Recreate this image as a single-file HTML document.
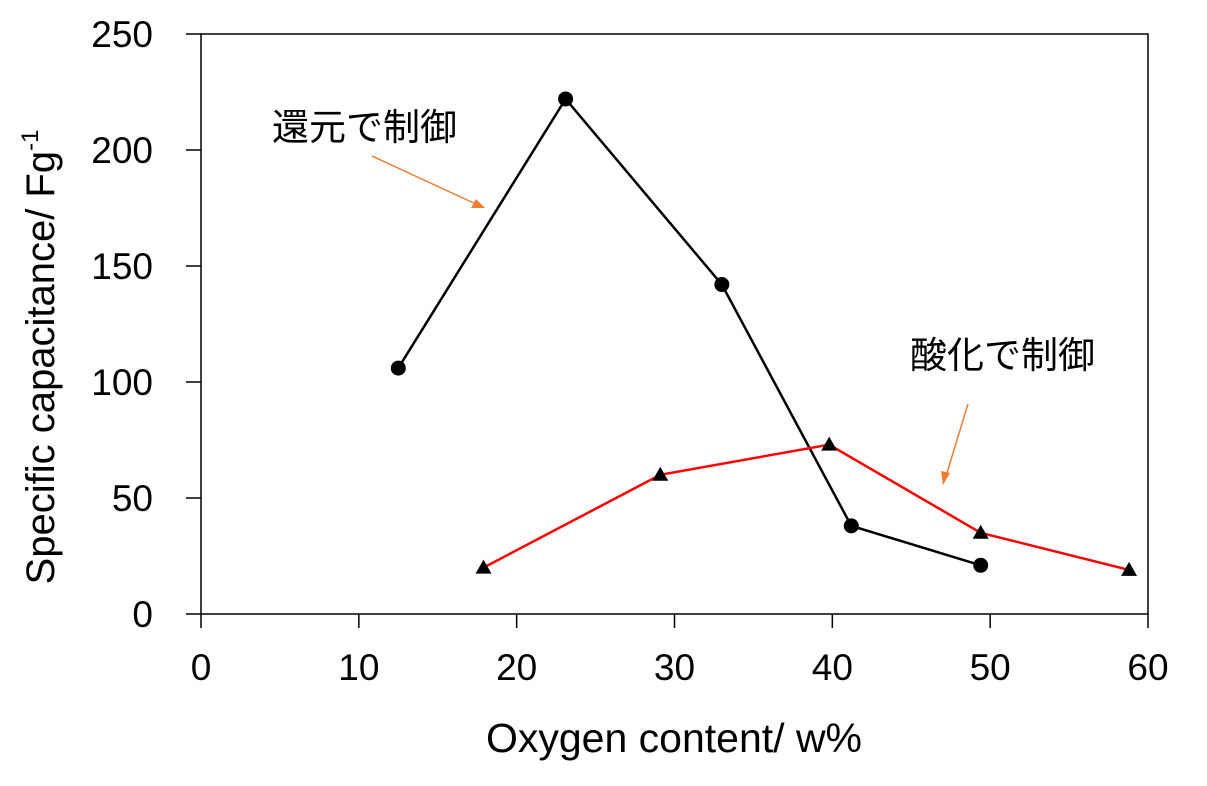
<!DOCTYPE html>
<html><head><meta charset="utf-8"><style>
body{margin:0;background:#fff}
svg text{font-family:"Liberation Sans","Noto Sans CJK JP",sans-serif;fill:#000}
</style></head><body>
<svg width="1207" height="781" viewBox="0 0 1207 781">
<g id="axes"></g><g id="series"></g>
<text x="272" y="140" font-size="37">還元で制御</text>
<line x1="372" y1="156" x2="478" y2="205" stroke="#ed7d31" stroke-width="1.5"/>
<polygon points="485,208 471,208 476,199" fill="#ed7d31"/>
<text x="910" y="368" font-size="37">酸化で制御</text>
<line x1="968" y1="404" x2="946" y2="476" stroke="#ed7d31" stroke-width="1.5"/>
<polygon points="943,485 941,471 950,473" fill="#ed7d31"/>
<text x="674" y="752" font-size="41" text-anchor="middle">Oxygen content/ w%</text>
<text transform="translate(54,357) rotate(-90)" font-size="40" text-anchor="middle">Specific capacitance/ Fg<tspan font-size="24" dy="-16">-1</tspan></text>
</svg>
<script>
const xTicks=[0,10,20,30,40,50,60];
const yTicks=[0,50,100,150,200,250];
const reduceX=[12.5,23.1,33.0,41.2,49.4];
const reduceY=[106,222,142,38,21];
const oxidX=[17.9,29.1,39.8,49.4,58.8];
const oxidY=[20,60,73,35,19];
const X0=201,X1=1148,Y0=614,Y1=34;
const sx=v=>X0+(v-0)/(60-0)*(X1-X0);
const sy=v=>Y0-(v-0)/(250-0)*(Y0-Y1);
const NS="http://www.w3.org/2000/svg";
const axes=document.getElementById('axes'),ser=document.getElementById('series');
function mk(tag,at,p){const e=document.createElementNS(NS,tag);for(const k in at)e.setAttribute(k,at[k]);p.appendChild(e);return e;}
const frame=mk('rect',{x:X0,y:Y1,width:X1-X0,height:Y0-Y1,fill:'none',stroke:'#000','stroke-width':1.5},axes);


xTicks.forEach(t=>{
 const l=mk('line',{x1:sx(t),x2:sx(t),y1:Y0,y2:Y0+14,stroke:'#000','stroke-width':1.5},axes);
 
 
 const tx=mk('text',{x:sx(t),y:Y0+66,'font-size':37,'text-anchor':'middle'},axes);tx.textContent=t;
 
 
});
yTicks.forEach(t=>{
 const l=mk('line',{x1:X0-15,x2:X0,y1:sy(t),y2:sy(t),stroke:'#000','stroke-width':1.5},axes);
 
 
 const tx=mk('text',{x:X0-48,y:sy(t)+13,'font-size':37,'text-anchor':'end'},axes);tx.textContent=t;
 
 
});
const lr=mk('polyline',{points:reduceX.map((x,i)=>sx(x)+','+sy(reduceY[i])).join(' '),fill:'none',stroke:'#000','stroke-width':2.5},ser);


const lo=mk('polyline',{points:oxidX.map((x,i)=>sx(x)+','+sy(oxidY[i])).join(' '),fill:'none',stroke:'#ff0000','stroke-width':2.5},ser);


reduceX.forEach((x,i)=>{
 const c=mk('circle',{cx:sx(x),cy:sy(reduceY[i]),r:7.5,fill:'#000'},ser);
 
 
});
oxidX.forEach((x,i)=>{
 const px=sx(x),py=sy(oxidY[i]);
 const p=mk('polygon',{points:`${px},${py-8} ${px-8},${py+6} ${px+8},${py+6}`,fill:'#000'},ser);
 
 
});
</script>
</body></html>
